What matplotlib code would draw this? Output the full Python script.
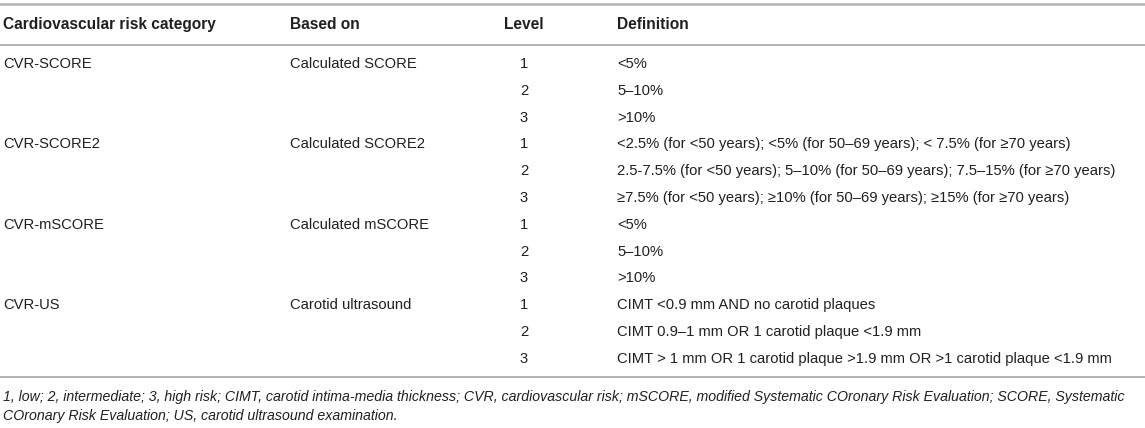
import matplotlib
matplotlib.use("Agg")
import matplotlib.pyplot as plt

plt.rcParams['font.family'] = ['Liberation Sans', 'DejaVu Sans']

headers = ["Cardiovascular risk category", "Based on", "Level", "Definition"]
categories = ["CVR-SCORE", "CVR-SCORE2", "CVR-mSCORE", "CVR-US"]
based_on = ["Calculated SCORE", "Calculated SCORE2", "Calculated mSCORE", "Carotid ultrasound"]
levels = ["1", "2", "3"]
definitions = [
    "<5%",
    "5–10%",
    ">10%",
    "<2.5% (for <50 years); <5% (for 50–69 years); < 7.5% (for ≥70 years)",
    "2.5-7.5% (for <50 years); 5–10% (for 50–69 years); 7.5–15% (for ≥70 years)",
    "≥7.5% (for <50 years); ≥10% (for 50–69 years); ≥15% (for ≥70 years)",
    "<5%",
    "5–10%",
    ">10%",
    "CIMT <0.9 mm AND no carotid plaques",
    "CIMT 0.9–1 mm OR 1 carotid plaque <1.9 mm",
    "CIMT > 1 mm OR 1 carotid plaque >1.9 mm OR >1 carotid plaque <1.9 mm",
]
footnote = ["1, low; 2, intermediate; 3, high risk; CIMT, carotid intima-media thickness; CVR, cardiovascular risk; "
            "mSCORE, modified Systematic COronary Risk Evaluation; SCORE, Systematic",
            "COronary Risk Evaluation; US, carotid ultrasound examination."]

W, H = 1145, 428
fig = plt.figure(figsize=(W / 100, H / 100), dpi=100)
ax = fig.add_axes([0, 0, 1, 1])
ax.set_xlim(0, W)
ax.set_ylim(H, 0)
ax.axis("off")

txt = "#231f20"
line_c = "#b3b3b3"
fs_head = 11.2
fs_body = 10.6
fs_note = 10.2
col_x = [3, 290, 524, 617]
row0, dy = 64, 26.8

# rules
ax.plot([0, W], [4, 4], color=line_c, lw=1.8)
ax.plot([0, W], [45, 45], color=line_c, lw=1.4)
ax.plot([0, W], [377, 377], color=line_c, lw=1.4)

for i, h in enumerate(headers):
    ax.text(col_x[i], 24.5, h, fontsize=fs_head, fontweight="bold", color=txt,
            ha="center" if i == 2 else "left", va="center")

for g, (cat, base) in enumerate(zip(categories, based_on)):
    y = row0 + 3 * g * dy
    ax.text(col_x[0], y, cat, fontsize=fs_body, color=txt, va="center")
    ax.text(col_x[1], y, base, fontsize=fs_body, color=txt, va="center")

for r, d in enumerate(definitions):
    y = row0 + r * dy
    ax.text(col_x[2], y, levels[r % 3], fontsize=fs_body, color=txt, ha="center", va="center")
    ax.text(col_x[3], y, d, fontsize=fs_body, color=txt, va="center")

for k, f in enumerate(footnote):
    ax.text(3, 397 + k * 19, f, fontsize=fs_note, color=txt, style="italic", va="center")

fig.savefig("out.png", dpi=100)
